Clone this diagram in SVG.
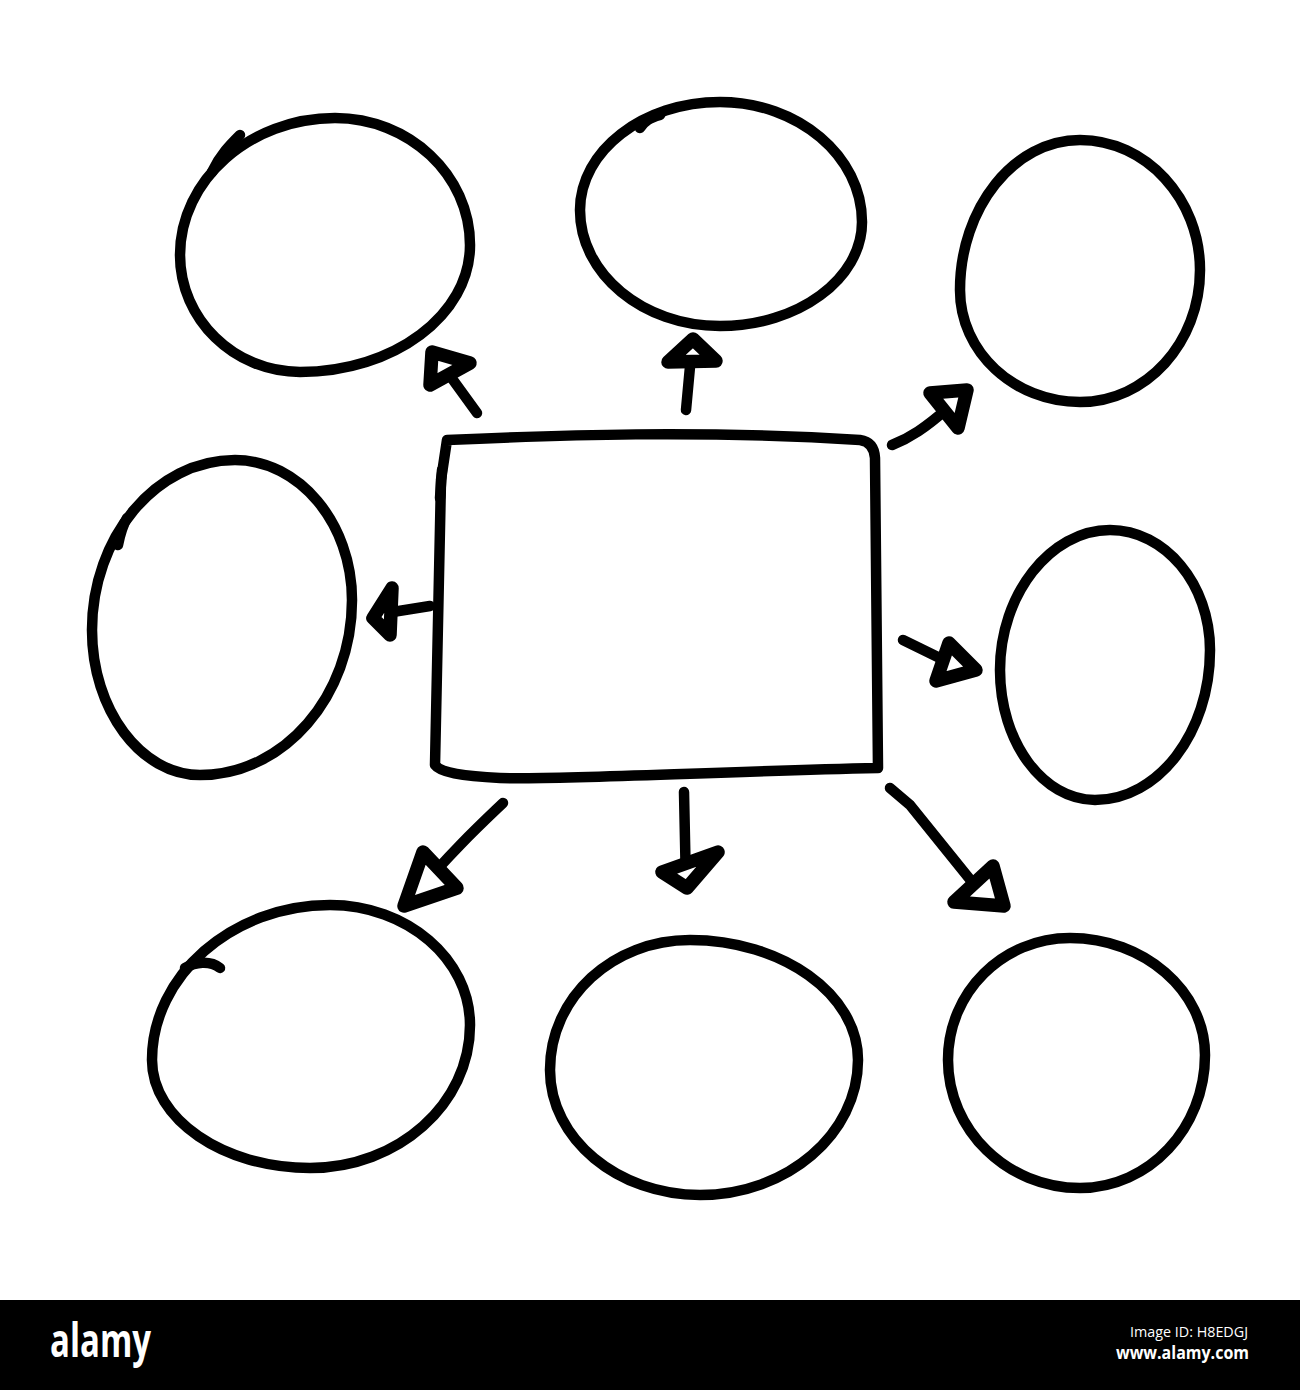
<svg xmlns="http://www.w3.org/2000/svg" width="1300" height="1390" viewBox="0 0 1300 1390">
<style>
.s{fill:none;stroke:#000;stroke-width:10.5;stroke-linecap:round;stroke-linejoin:round}
.h{fill:#fff;stroke:#000;stroke-width:13.5;stroke-linejoin:round}
.t{font-family:"Open Sans","DejaVu Sans","Liberation Sans",sans-serif;fill:#fff}
</style>
<rect width="1300" height="1390" fill="#fff"/>
<g id="center">
<path class="s" d="M447,440 C560,435 700,430 860,440 Q874,442 875,458 L878,768 C700,772 560,780 500,778 C460,776 440,772 435,765 L441,480 L447,440"/>
<path class="s" d="M442,470 L440,498"/>
</g>
<g id="n1"><path class="s" d="M335,118 C409,118 470,175 470,245 C470,315 394,372 300,372 C234,372 180,319 180,255 C180,180 250,118 335,118 Z"/><path class="s" d="M212,172 C220,155 230,145 240,135"/></g>
<g id="n2"><path class="s" d="M720,102 C798,102 862,156 862,222 C862,279 798,326 720,326 C643,326 580,274 580,210 C580,151 643,102 720,102 Z"/><path class="s" d="M640,128 C645,120 650,118 660,115"/></g>
<g id="n3"><path class="s" d="M1080,140 C1146,140 1200,199 1200,270 C1200,343 1146,402 1080,402 C1014,402 960,352 960,290 C960,208 1014,140 1080,140 Z"/></g>
<g id="n4"><path class="s" d="M235,460 C299,460 352,523 352,600 C352,696 284,775 200,775 C141,775 92,710 92,630 C92,537 156,460 235,460 Z"/><path class="s" d="M118,545 C120,535 123,525 127,518"/></g>
<g id="n5"><path class="s" d="M1110,530 C1165,530 1210,584 1210,650 C1210,733 1158,800 1095,800 C1043,800 1000,742 1000,670 C1000,595 1050,530 1110,530 Z"/></g>
<g id="n6"><path class="s" d="M330,905 C407,905 470,959 470,1025 C470,1104 398,1168 310,1168 C223,1168 152,1119 152,1060 C152,976 232,905 330,905 Z"/><path class="s" d="M185,968 C195,962 210,960 220,968"/></g>
<g id="n7"><path class="s" d="M690,940 C782,940 858,994 858,1060 C858,1134 787,1195 700,1195 C618,1195 550,1139 550,1070 C550,997 613,940 690,940 Z"/></g>
<g id="n8"><path class="s" d="M1070,938 C1144,938 1205,991 1205,1055 C1205,1128 1149,1188 1080,1188 C1007,1188 948,1130 948,1060 C948,992 1003,938 1070,938 Z"/></g>
<g id="connectors">
<path class="s" d="M477,413 L440,362"/>
<polygon class="h" points="432,352 470,363 430,385"/>
<path class="s" d="M686,410 L692,345"/>
<polygon class="h" points="693,339 716,361 668,362"/>
<path class="s" d="M892,445 C910,438 925,428 948,408"/>
<polygon class="h" points="930,393 967,390 958,428"/>
<path class="s" d="M430,606 L380,614"/>
<polygon class="h" points="392,588 373,618 390,635"/>
<path class="s" d="M903,640 L948,662"/>
<polygon class="h" points="949,643 976,670 936,681"/>
<path class="s" d="M503,803 C480,825 455,848 410,900"/>
<polygon class="h" points="423,852 457,888 404,906"/>
<path class="s" d="M684,792 L686,887"/>
<polygon class="h" points="662,872 718,852 687,888"/>
<path class="s" d="M890,788 L910,805 L985,898"/>
<polygon class="h" points="993,866 1004,906 954,902"/>
</g>
<g id="footer">
<rect x="0" y="1300" width="1300" height="90" fill="#000"/>
<text class="t" x="50" y="1357" font-size="46" font-weight="bold" textLength="101" lengthAdjust="spacingAndGlyphs">alamy</text>
<text class="t" x="1130" y="1337" font-size="15" fill="#ddd" textLength="118" lengthAdjust="spacingAndGlyphs">Image ID: H8EDGJ</text>
<text class="t" x="1116" y="1359" font-size="17" font-weight="bold" textLength="133" lengthAdjust="spacingAndGlyphs">www.alamy.com</text>
</g>
</svg>
